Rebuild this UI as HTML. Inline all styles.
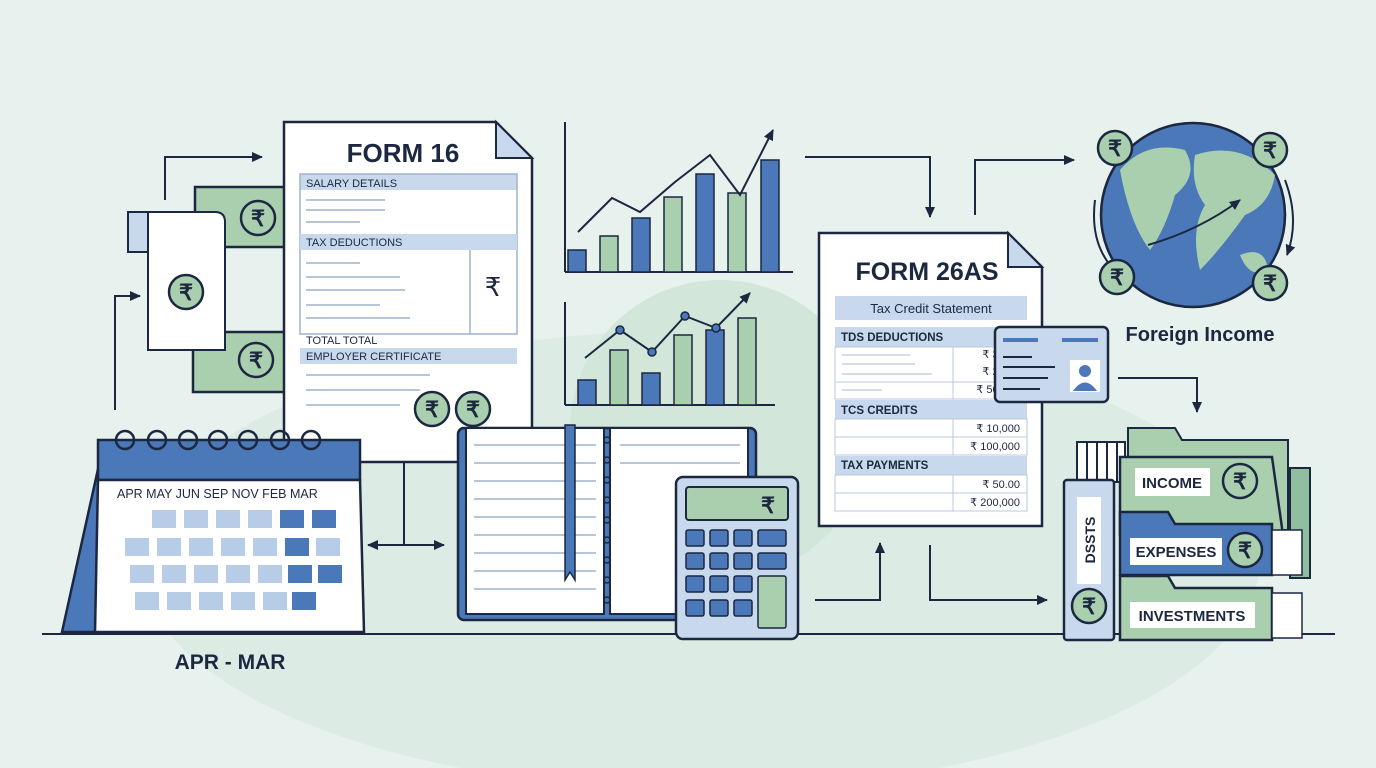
<!DOCTYPE html><html><head><meta charset="utf-8"><style>
html,body{margin:0;padding:0;background:#e7f1ed}
svg{display:block}
text{font-family:"Liberation Sans",sans-serif;fill:#1c2740}
</style></head><body>
<svg width="1376" height="768" viewBox="0 0 1376 768" xmlns="http://www.w3.org/2000/svg">
<defs>
<marker id="ah" markerUnits="userSpaceOnUse" markerWidth="12" markerHeight="12" refX="10" refY="6" orient="auto"><path d="M0,1 L11,6 L0,11 z" fill="#1c2740"/></marker>
<g id="rup"><circle r="17" fill="#a9cfae" stroke="#1c2740" stroke-width="2.5"/><text x="0" y="8" text-anchor="middle" font-size="22" font-weight="bold">₹</text></g>
</defs>
<rect width="1376" height="768" fill="#e7f1ed"/>
<ellipse cx="700" cy="560" rx="560" ry="230" fill="#dcece4"/>
<ellipse cx="720" cy="430" rx="150" ry="150" fill="#d2e7da"/>
<line x1="42" y1="634" x2="1335" y2="634" stroke="#1c2740" stroke-width="2"/>

<path d="M165,200 V157 H262" fill="none" stroke="#1c2740" stroke-width="2" marker-end="url(#ah)"/>
<path d="M115,410 V296 H140" fill="none" stroke="#1c2740" stroke-width="2" marker-end="url(#ah)"/>
<path d="M404,462 V545 H368" fill="none" stroke="#1c2740" stroke-width="2" marker-end="url(#ah)"/>
<path d="M404,545 H444" fill="none" stroke="#1c2740" stroke-width="2" marker-end="url(#ah)"/>

<rect x="195" y="187" width="105" height="60" fill="#a9cfae" stroke="#1c2740" stroke-width="2.5"/>
<use href="#rup" x="258" y="218"/>
<rect x="193" y="332" width="105" height="60" fill="#a9cfae" stroke="#1c2740" stroke-width="2.5"/>
<use href="#rup" x="256" y="360"/>
<path d="M130,218 Q130,212 140,212 H215 Q225,212 225,222 V350 H148 V232 Q148,222 140,222 Z" fill="#fff" stroke="#1c2740" stroke-width="2"/>
<rect x="128" y="212" width="20" height="40" fill="#c8d9ee" stroke="#1c2740" stroke-width="2"/>
<use href="#rup" x="186" y="292"/>

<path d="M284,122 H496 L532,158 V462 H284 Z" fill="#fff" stroke="#1c2740" stroke-width="2.5"/>
<path d="M496,122 V158 H532 Z" fill="#c8d9ee" stroke="#1c2740" stroke-width="2"/>
<text x="403" y="162" text-anchor="middle" font-size="26" font-weight="bold">FORM 16</text>
<rect x="300" y="174" width="217" height="16" fill="#c8d9ee"/><text x="306" y="187" font-size="11">SALARY DETAILS</text>
<rect x="300" y="174" width="217" height="160" fill="none" stroke="#9db3cc" stroke-width="1.5"/>
<g stroke="#9db3cc" stroke-width="1.5"><line x1="306" y1="200" x2="385" y2="200"/><line x1="306" y1="210" x2="385" y2="210"/><line x1="306" y1="222" x2="360" y2="222"/></g>
<rect x="300" y="234" width="217" height="16" fill="#c8d9ee"/><text x="306" y="246" font-size="11">TAX DEDUCTIONS</text>
<line x1="470" y1="250" x2="470" y2="334" stroke="#9db3cc" stroke-width="1.5"/>
<text x="493" y="296" text-anchor="middle" font-size="26">₹</text>
<g stroke="#9db3cc" stroke-width="1.5"><line x1="306" y1="263" x2="360" y2="263"/><line x1="306" y1="277" x2="400" y2="277"/><line x1="306" y1="290" x2="405" y2="290"/><line x1="306" y1="305" x2="380" y2="305"/><line x1="306" y1="318" x2="410" y2="318"/></g>
<text x="306" y="344" font-size="11">TOTAL TOTAL</text>
<rect x="300" y="348" width="217" height="16" fill="#c8d9ee"/><text x="306" y="360" font-size="11">EMPLOYER CERTIFICATE</text>
<g stroke="#9db3cc" stroke-width="1.5"><line x1="306" y1="375" x2="430" y2="375"/><line x1="306" y1="390" x2="420" y2="390"/><line x1="306" y1="405" x2="400" y2="405"/></g>
<use href="#rup" x="432" y="409"/><use href="#rup" x="473" y="409"/>

<path d="M62,632 L100,460 H118 V632 Z" fill="#4a78b8" stroke="#1c2740" stroke-width="2.5"/>
<rect x="98" y="440" width="262" height="40" fill="#4a78b8" stroke="#1c2740" stroke-width="2.5"/>
<path d="M98,480 H360 L364,632 H95 Z" fill="#fff" stroke="#1c2740" stroke-width="2.5"/>
<g fill="none" stroke="#1c2740" stroke-width="2.5">
<circle cx="125" cy="440" r="9"/><circle cx="157" cy="440" r="9"/><circle cx="188" cy="440" r="9"/><circle cx="218" cy="440" r="9"/><circle cx="248" cy="440" r="9"/><circle cx="280" cy="440" r="9"/><circle cx="311" cy="440" r="9"/></g>
<text x="117" y="498" font-size="12.5">APR MAY JUN SEP NOV FEB MAR</text>
<g fill="#b7cce6">
<rect x="152" y="510" width="24" height="18"/><rect x="184" y="510" width="24" height="18"/><rect x="216" y="510" width="24" height="18"/><rect x="248" y="510" width="24" height="18"/><rect x="280" y="510" width="24" height="18" fill="#4a78b8"/><rect x="312" y="510" width="24" height="18" fill="#4a78b8"/>
<rect x="125" y="538" width="24" height="18"/><rect x="157" y="538" width="24" height="18"/><rect x="189" y="538" width="24" height="18"/><rect x="221" y="538" width="24" height="18"/><rect x="253" y="538" width="24" height="18"/><rect x="285" y="538" width="24" height="18" fill="#4a78b8"/><rect x="316" y="538" width="24" height="18"/>
<rect x="130" y="565" width="24" height="18"/><rect x="162" y="565" width="24" height="18"/><rect x="194" y="565" width="24" height="18"/><rect x="226" y="565" width="24" height="18"/><rect x="258" y="565" width="24" height="18"/><rect x="288" y="565" width="24" height="18" fill="#4a78b8"/><rect x="318" y="565" width="24" height="18" fill="#4a78b8"/>
<rect x="135" y="592" width="24" height="18"/><rect x="167" y="592" width="24" height="18"/><rect x="199" y="592" width="24" height="18"/><rect x="231" y="592" width="24" height="18"/><rect x="263" y="592" width="24" height="18"/><rect x="292" y="592" width="24" height="18" fill="#4a78b8"/></g>
<text x="230" y="669" text-anchor="middle" font-size="21" font-weight="bold">APR - MAR</text>

<line x1="565" y1="122" x2="565" y2="272" stroke="#1c2740" stroke-width="2"/><line x1="565" y1="272" x2="793" y2="272" stroke="#1c2740" stroke-width="2"/>
<g stroke="#1c2740" stroke-width="1.5">
<rect x="568" y="250" width="18" height="22" fill="#4a78b8"/><rect x="600" y="236" width="18" height="36" fill="#a9cfae"/><rect x="632" y="218" width="18" height="54" fill="#4a78b8"/><rect x="664" y="197" width="18" height="75" fill="#a9cfae"/><rect x="696" y="174" width="18" height="98" fill="#4a78b8"/><rect x="728" y="193" width="18" height="79" fill="#a9cfae"/><rect x="761" y="160" width="18" height="112" fill="#4a78b8"/></g>
<path d="M578,232 L612,198 L640,212 L675,182 L710,155 L740,195 L773,130" fill="none" stroke="#1c2740" stroke-width="2" marker-end="url(#ah)"/>
<line x1="565" y1="302" x2="565" y2="405" stroke="#1c2740" stroke-width="2"/><line x1="565" y1="405" x2="775" y2="405" stroke="#1c2740" stroke-width="2"/>
<g stroke="#1c2740" stroke-width="1.5">
<rect x="578" y="380" width="18" height="25" fill="#4a78b8"/><rect x="610" y="350" width="18" height="55" fill="#a9cfae"/><rect x="642" y="373" width="18" height="32" fill="#4a78b8"/><rect x="674" y="335" width="18" height="70" fill="#a9cfae"/><rect x="706" y="330" width="18" height="75" fill="#4a78b8"/><rect x="738" y="318" width="18" height="87" fill="#a9cfae"/></g>
<path d="M585,358 L620,330 L652,352 L685,316 L716,328 L750,293" fill="none" stroke="#1c2740" stroke-width="2" marker-end="url(#ah)"/>
<g fill="#4a78b8" stroke="#1c2740" stroke-width="1.5"><circle cx="620" cy="330" r="4"/><circle cx="652" cy="352" r="4"/><circle cx="685" cy="316" r="4"/><circle cx="716" cy="328" r="4"/></g>

<rect x="458" y="428" width="298" height="192" rx="6" fill="#4a78b8" stroke="#1c2740" stroke-width="2.5"/>
<rect x="466" y="428" width="138" height="186" fill="#fff" stroke="#1c2740" stroke-width="2"/>
<rect x="610" y="428" width="138" height="186" fill="#fff" stroke="#1c2740" stroke-width="2"/>
<g stroke="#9db3cc" stroke-width="1.5">
<line x1="474" y1="445" x2="596" y2="445"/><line x1="474" y1="463" x2="596" y2="463"/><line x1="474" y1="481" x2="596" y2="481"/><line x1="474" y1="499" x2="596" y2="499"/><line x1="474" y1="517" x2="596" y2="517"/><line x1="474" y1="535" x2="596" y2="535"/><line x1="474" y1="553" x2="596" y2="553"/><line x1="474" y1="571" x2="596" y2="571"/><line x1="474" y1="589" x2="596" y2="589"/>
<line x1="620" y1="445" x2="740" y2="445"/><line x1="620" y1="463" x2="740" y2="463"/></g>
<path d="M565,425 H575 V580 L570,572 L565,580 Z" fill="#4a78b8" stroke="#1c2740" stroke-width="1.5"/>
<g fill="none" stroke="#1c2740" stroke-width="1.5"><circle cx="607" cy="440" r="3"/><circle cx="607" cy="460" r="3"/><circle cx="607" cy="480" r="3"/><circle cx="607" cy="500" r="3"/><circle cx="607" cy="520" r="3"/><circle cx="607" cy="540" r="3"/><circle cx="607" cy="560" r="3"/><circle cx="607" cy="580" r="3"/><circle cx="607" cy="600" r="3"/></g>

<rect x="676" y="477" width="122" height="162" rx="7" fill="#c8d9ee" stroke="#1c2740" stroke-width="2.5"/>
<rect x="686" y="487" width="102" height="33" rx="3" fill="#a9cfae" stroke="#1c2740" stroke-width="2"/>
<text x="768" y="513" text-anchor="middle" font-size="22" font-weight="bold">₹</text>
<g fill="#4a78b8" stroke="#1c2740" stroke-width="1.5">
<rect x="686" y="530" width="18" height="16" rx="2"/><rect x="710" y="530" width="18" height="16" rx="2"/><rect x="734" y="530" width="18" height="16" rx="2"/><rect x="758" y="530" width="28" height="16" rx="2"/>
<rect x="686" y="553" width="18" height="16" rx="2"/><rect x="710" y="553" width="18" height="16" rx="2"/><rect x="734" y="553" width="18" height="16" rx="2"/><rect x="758" y="553" width="28" height="16" rx="2"/>
<rect x="686" y="576" width="18" height="16" rx="2"/><rect x="710" y="576" width="18" height="16" rx="2"/><rect x="734" y="576" width="18" height="16" rx="2"/>
<rect x="686" y="600" width="18" height="16" rx="2"/><rect x="710" y="600" width="18" height="16" rx="2"/><rect x="734" y="600" width="18" height="16" rx="2"/>
<rect x="758" y="576" width="28" height="52" rx="2" fill="#a9cfae"/></g>

<path d="M805,157 H930 V217" fill="none" stroke="#1c2740" stroke-width="2" marker-end="url(#ah)"/>
<path d="M815,600 H880 V543" fill="none" stroke="#1c2740" stroke-width="2" marker-end="url(#ah)"/>
<path d="M930,545 V600 H1047" fill="none" stroke="#1c2740" stroke-width="2" marker-end="url(#ah)"/>
<path d="M975,215 V160 H1074" fill="none" stroke="#1c2740" stroke-width="2" marker-end="url(#ah)"/>
<path d="M1118,378 H1197 V412" fill="none" stroke="#1c2740" stroke-width="2" marker-end="url(#ah)"/>

<path d="M819,233 H1008 L1042,267 V526 H819 Z" fill="#fff" stroke="#1c2740" stroke-width="2.5"/>
<path d="M1008,233 V267 H1042 Z" fill="#c8d9ee" stroke="#1c2740" stroke-width="2"/>
<text x="927" y="280" text-anchor="middle" font-size="25" font-weight="bold">FORM 26AS</text>
<rect x="835" y="296" width="192" height="24" fill="#c8d9ee"/><text x="931" y="313" text-anchor="middle" font-size="13">Tax Credit Statement</text>
<rect x="835" y="327" width="192" height="20" fill="#c8d9ee"/><text x="841" y="341" font-size="11.5" font-weight="bold">TDS DEDUCTIONS</text>
<rect x="835" y="347" width="192" height="52" fill="#fff" stroke="#b9c9dc"/><line x1="953" y1="347" x2="953" y2="399" stroke="#b9c9dc"/><line x1="835" y1="382" x2="1027" y2="382" stroke="#b9c9dc"/>
<g stroke="#b9c9dc" stroke-width="1.2"><line x1="842" y1="355" x2="910" y2="355"/><line x1="842" y1="364" x2="915" y2="364"/><line x1="842" y1="374" x2="932" y2="374"/><line x1="842" y1="390" x2="882" y2="390"/>
<line x1="842" y1="427" x2="923" y2="427"/><line x1="842" y1="445" x2="882" y2="445"/><line x1="842" y1="483" x2="923" y2="483"/><line x1="842" y1="501" x2="882" y2="501"/></g>
<text x="1020" y="358" text-anchor="end" font-size="11">₹ 3,000</text><text x="1020" y="375" text-anchor="end" font-size="11">₹ 2,000</text><text x="1020" y="393" text-anchor="end" font-size="11">₹ 50,000</text>
<rect x="835" y="400" width="192" height="19" fill="#c8d9ee"/><text x="841" y="414" font-size="11.5" font-weight="bold">TCS CREDITS</text>
<rect x="835" y="419" width="192" height="36" fill="#fff" stroke="#b9c9dc"/><line x1="953" y1="419" x2="953" y2="455" stroke="#b9c9dc"/><line x1="835" y1="437" x2="1027" y2="437" stroke="#b9c9dc"/>
<text x="1020" y="432" text-anchor="end" font-size="11">₹ 10,000</text><text x="1020" y="450" text-anchor="end" font-size="11">₹ 100,000</text>
<rect x="835" y="456" width="192" height="19" fill="#c8d9ee"/><text x="841" y="469" font-size="11.5" font-weight="bold">TAX PAYMENTS</text>
<rect x="835" y="475" width="192" height="36" fill="#fff" stroke="#b9c9dc"/><line x1="953" y1="475" x2="953" y2="511" stroke="#b9c9dc"/><line x1="835" y1="493" x2="1027" y2="493" stroke="#b9c9dc"/>
<text x="1020" y="488" text-anchor="end" font-size="11">₹ 50.00</text><text x="1020" y="506" text-anchor="end" font-size="11">₹ 200,000</text>
<rect x="995" y="327" width="113" height="75" rx="5" fill="#c8d9ee" stroke="#1c2740" stroke-width="2.5"/>
<rect x="1003" y="338" width="35" height="4" fill="#4a78b8"/><rect x="1062" y="338" width="36" height="4" fill="#4a78b8"/>
<g stroke="#1c2740" stroke-width="2"><line x1="1003" y1="357" x2="1032" y2="357"/><line x1="1003" y1="367" x2="1055" y2="367"/><line x1="1003" y1="378" x2="1048" y2="378"/><line x1="1003" y1="389" x2="1040" y2="389"/></g>
<rect x="1070" y="360" width="30" height="32" fill="#fff"/><circle cx="1085" cy="371" r="6" fill="#4a78b8"/><path d="M1073,391 Q1085,374 1097,391 Z" fill="#4a78b8"/>

<circle cx="1193" cy="215" r="92" fill="#4a78b8" stroke="#1c2740" stroke-width="2.5"/>
<path d="M1120,170 Q1145,140 1185,150 Q1200,175 1175,195 Q1165,230 1150,250 Q1130,225 1120,170 Z" fill="#a9cfae"/>
<path d="M1195,155 Q1240,140 1275,175 Q1270,205 1245,215 Q1220,250 1200,270 Q1190,230 1205,205 Q1190,185 1195,155 Z" fill="#a9cfae"/>
<path d="M1240,255 Q1265,245 1268,270 Q1250,280 1240,255 Z" fill="#a9cfae"/>
<path d="M1148,245 Q1200,230 1240,200" fill="none" stroke="#1c2740" stroke-width="2" marker-end="url(#ah)"/>
<path d="M1095,200 Q1090,240 1110,265" fill="none" stroke="#1c2740" stroke-width="2"/>
<path d="M1285,180 Q1300,220 1287,255" fill="none" stroke="#1c2740" stroke-width="2" marker-end="url(#ah)"/>
<use href="#rup" x="1115" y="148"/><use href="#rup" x="1270" y="150"/><use href="#rup" x="1117" y="277"/><use href="#rup" x="1270" y="283"/>
<text x="1200" y="341" text-anchor="middle" font-size="20" font-weight="bold">Foreign Income</text>

<rect x="1077" y="442" width="48" height="40" fill="#fff" stroke="#1c2740" stroke-width="2"/>
<g stroke="#1c2740" stroke-width="2"><line x1="1087" y1="442" x2="1087" y2="482"/><line x1="1097" y1="442" x2="1097" y2="482"/><line x1="1107" y1="442" x2="1107" y2="482"/><line x1="1117" y1="442" x2="1117" y2="482"/></g>
<rect x="1064" y="480" width="50" height="160" rx="3" fill="#c8d9ee" stroke="#1c2740" stroke-width="2.5"/>
<rect x="1077" y="497" width="24" height="87" fill="#fff"/>
<text transform="translate(1095,540) rotate(-90)" text-anchor="middle" font-size="14" font-weight="bold">DSSTS</text>
<use href="#rup" x="1089" y="606"/>
<path d="M1128,428 H1175 L1182,440 H1288 V530 H1128 Z" fill="#a9cfae" stroke="#1c2740" stroke-width="2"/>
<rect x="1290" y="468" width="20" height="110" fill="#8fbf9f" stroke="#1c2740" stroke-width="2"/>
<path d="M1120,457 H1272 L1283,535 H1120 Z" fill="#a9cfae" stroke="#1c2740" stroke-width="2.5"/>
<rect x="1135" y="468" width="75" height="28" fill="#fff"/><text x="1172" y="488" text-anchor="middle" font-size="15" font-weight="bold">INCOME</text>
<use href="#rup" x="1240" y="481"/>
<path d="M1120,512 H1168 L1175,524 H1272 V575 H1120 Z" fill="#4a78b8" stroke="#1c2740" stroke-width="2.5"/>
<rect x="1272" y="530" width="30" height="45" fill="#fff" stroke="#1c2740" stroke-width="1.5"/>
<rect x="1130" y="538" width="92" height="27" fill="#fff"/><text x="1176" y="557" text-anchor="middle" font-size="15" font-weight="bold">EXPENSES</text>
<use href="#rup" x="1245" y="550"/>
<path d="M1120,576 H1168 L1175,588 H1272 V640 H1120 Z" fill="#a9cfae" stroke="#1c2740" stroke-width="2.5"/>
<rect x="1272" y="593" width="30" height="45" fill="#fff" stroke="#1c2740" stroke-width="1.5"/>
<rect x="1130" y="602" width="125" height="26" fill="#fff"/><text x="1192" y="621" text-anchor="middle" font-size="15" font-weight="bold">INVESTMENTS</text>
</svg>
</body></html>
